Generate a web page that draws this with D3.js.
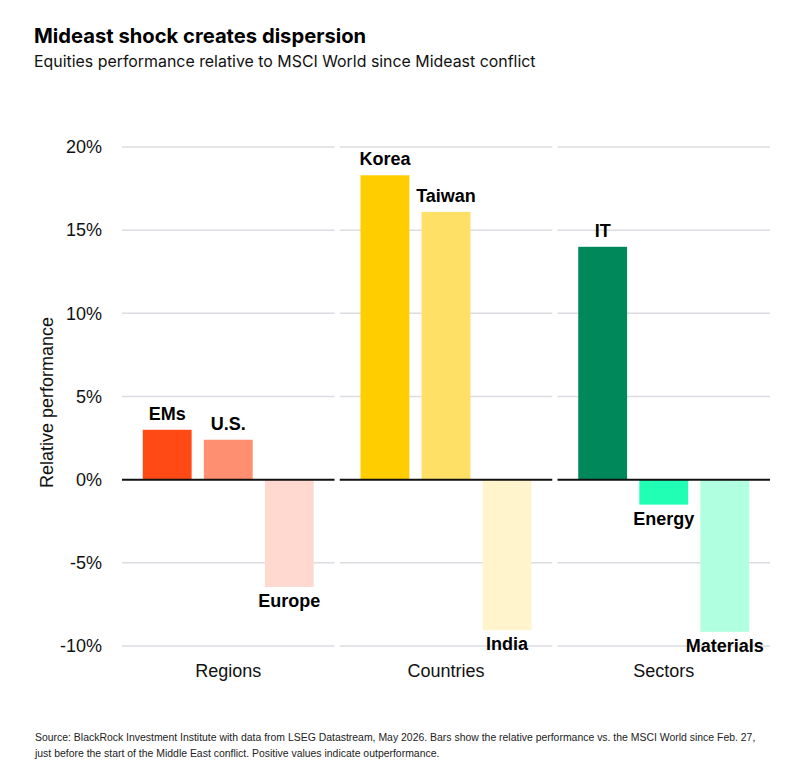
<!DOCTYPE html>
<html>
<head>
<meta charset="utf-8">
<script src="https://cdn.jsdelivr.net/npm/d3@7"></script>
<style>
  body { margin: 0; background: #fff; }
  text { font-family: "Liberation Sans", Arial, sans-serif; }
</style>
</head>
<body>
<div class="container"></div>
<script>
// data
const groups = ["Regions", "Countries", "Sectors"];
const categories = [
  ["EMs", "U.S.", "Europe"],
  ["Korea", "Taiwan", "India"],
  ["IT", "Energy", "Materials"]
];
const values = [
  [3.0, 2.4, -6.45],
  [18.3, 16.1, -9.05],
  [14.0, -1.5, -9.15]
];
const colors = [
  ["#ff4a16", "#ff8f70", "#ffd9cf"],
  ["#ffcd00", "#ffe066", "#fff4cc"],
  ["#00875a", "#20ffb3", "#b1ffe1"]
];
const yTicks = [20, 15, 10, 5, 0, -5, -10];

const WIDTH = 794, HEIGHT = 775;
const MARGIN = { top: 147, right: 24, bottom: 129, left: 122 };

const svg = d3.select(".container")
  .append("svg")
  .attr("width", WIDTH)
  .attr("height", HEIGHT)
  .attr("viewBox", [0, 0, WIDTH, HEIGHT]);

const yScale = d3.scaleLinear()
  .domain([-10, 20])
  .range([HEIGHT - MARGIN.bottom, MARGIN.top]);

const xGroup = d3.scaleBand()
  .domain(groups)
  .range([MARGIN.left, WIDTH - MARGIN.right])
  .paddingInner(0.024);

// title block
svg.append("text")
  .attr("x", 34).attr("y", 43)
  .style("font-family", "Inter, 'Noto Sans', sans-serif")
  .style("font-weight", 700)
  .style("font-size", "20.2px")
  .attr("fill", "#000")
  .text("Mideast shock creates dispersion");
svg.append("text")
  .attr("x", 34).attr("y", 67)
  .style("font-family", "Inter, 'Noto Sans', sans-serif")
  .style("font-size", "15.9px")
  .attr("fill", "#111")
  .text("Equities performance relative to MSCI World since Mideast conflict");

// y tick labels
svg.append("g")
  .selectAll("text")
  .data(yTicks)
  .join("text")
  .attr("x", 102)
  .attr("y", (d) => yScale(d))
  .attr("dy", "0.35em")
  .attr("text-anchor", "end")
  .style("font-size", "18px")
  .attr("fill", "#111")
  .text((d) => `${d}%`);

// y title
svg.append("text")
  .attr("transform", `translate(53, ${yScale(5) + 6}) rotate(-90)`)
  .attr("text-anchor", "middle")
  .style("font-size", "18px")
  .attr("fill", "#111")
  .text("Relative performance");

groups.forEach((group, gi) => {
  const x0 = xGroup(group);
  const w = xGroup.bandwidth();
  const xBar = d3.scaleBand()
    .domain(categories[gi])
    .range([x0, x0 + w])
    .paddingInner(0.2)
    .paddingOuter(0.34);

  const g = svg.append("g");

  // gridlines
  g.append("g")
    .selectAll("line")
    .data(yTicks.filter((d) => d !== 0))
    .join("line")
    .attr("x1", x0).attr("x2", x0 + w)
    .attr("y1", (d) => yScale(d)).attr("y2", (d) => yScale(d))
    .attr("stroke", "#dcdce2")
    .attr("stroke-width", 1.5);

  const rows = categories[gi].map((c, i) => ({ name: c, value: values[gi][i], color: colors[gi][i] }));

  // bars
  g.append("g")
    .selectAll("rect")
    .data(rows)
    .join("rect")
    .attr("x", (d) => xBar(d.name))
    .attr("width", xBar.bandwidth())
    .attr("y", (d) => yScale(Math.max(0, d.value)))
    .attr("height", (d) => Math.abs(yScale(d.value) - yScale(0)))
    .attr("fill", (d) => d.color);

  // zero line
  g.append("line")
    .attr("x1", x0).attr("x2", x0 + w)
    .attr("y1", yScale(0)).attr("y2", yScale(0))
    .attr("stroke", "#111")
    .attr("stroke-width", 2);

  // bar labels
  g.append("g")
    .selectAll("text")
    .data(rows)
    .join("text")
    .attr("x", (d) => xBar(d.name) + xBar.bandwidth() / 2)
    .attr("y", (d) => d.value >= 0 ? yScale(d.value) - 10 : yScale(d.value) + 20)
    .attr("text-anchor", "middle")
    .style("font-size", "18px")
    .style("font-weight", 700)
    .attr("fill", "#000")
    .text((d) => d.name);

  // group label
  g.append("text")
    .attr("x", x0 + w / 2)
    .attr("y", 677)
    .attr("text-anchor", "middle")
    .style("font-size", "18px")
    .attr("fill", "#111")
    .text(group);
});

// footer
const foot = svg.append("g")
  .style("font-family", "'Liberation Sans Narrow', 'Roboto Condensed', 'Liberation Sans', sans-serif")
  .style("font-size", "10.45px")
  .attr("fill", "#222");
foot.append("text").attr("x", 35).attr("y", 741)
  .text("Source: BlackRock Investment Institute with data from LSEG Datastream, May 2026. Bars show the relative performance vs. the MSCI World since Feb. 27,");
foot.append("text").attr("x", 35).attr("y", 757)
  .text("just before the start of the Middle East conflict. Positive values indicate outperformance.");
</script>
</body>
</html>
